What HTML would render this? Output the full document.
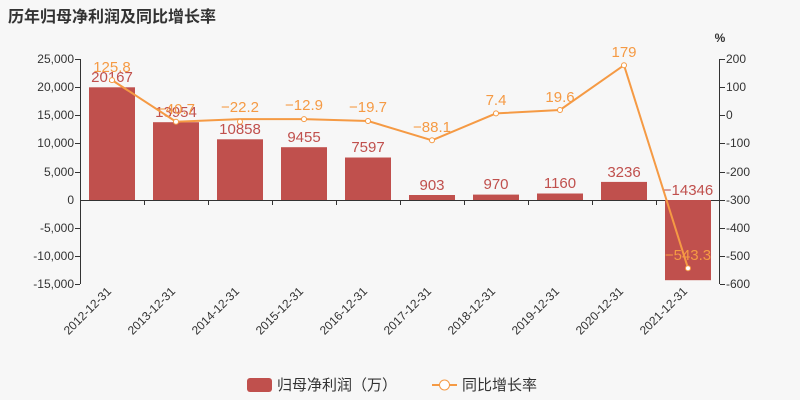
<!DOCTYPE html>
<html><head><meta charset="utf-8"><style>
body{margin:0;background:#f7f7f7;}
svg{display:block;font-family:"Liberation Sans","Noto Sans CJK SC",sans-serif;}
</style></head><body>
<svg width="800" height="400" viewBox="0 0 800 400">
<rect width="800" height="400" fill="#f7f7f7"/>
<text x="8" y="22" font-size="16" font-weight="bold" fill="#333">历年归母净利润及同比增长率</text>
<text x="720" y="42" font-size="12" fill="#333" text-anchor="middle" font-weight="bold">%</text>
<g stroke="#333" stroke-width="1">
<line x1="80.5" y1="59" x2="80.5" y2="284"/>
<line x1="719.5" y1="59" x2="719.5" y2="284"/>
<line x1="80" y1="200.5" x2="720" y2="200.5"/>
</g>
<g font-size="12" fill="#333" text-anchor="end">
<text x="74" y="63">25,000</text><text x="74" y="91">20,000</text><text x="74" y="119">15,000</text>
<text x="74" y="147">10,000</text><text x="74" y="176">5,000</text><text x="74" y="204">0</text>
<text x="74" y="232">-5,000</text><text x="74" y="260">-10,000</text><text x="74" y="288">-15,000</text>
</g>
<g font-size="12" fill="#333">
<text x="726" y="63">200</text><text x="726" y="91">100</text><text x="726" y="119">0</text>
<text x="726" y="147">-100</text><text x="726" y="176">-200</text><text x="726" y="204">-300</text>
<text x="726" y="232">-400</text><text x="726" y="260">-500</text><text x="726" y="288">-600</text>
</g>
<g stroke="#333">
<line x1="75" y1="59.5" x2="80" y2="59.5"/><line x1="75" y1="87.5" x2="80" y2="87.5"/><line x1="75" y1="115.5" x2="80" y2="115.5"/><line x1="75" y1="143.5" x2="80" y2="143.5"/><line x1="75" y1="172.5" x2="80" y2="172.5"/><line x1="75" y1="228.5" x2="80" y2="228.5"/><line x1="75" y1="256.5" x2="80" y2="256.5"/><line x1="75" y1="284.5" x2="80" y2="284.5"/>
<line x1="720" y1="59.5" x2="725" y2="59.5"/><line x1="720" y1="87.5" x2="725" y2="87.5"/><line x1="720" y1="115.5" x2="725" y2="115.5"/><line x1="720" y1="143.5" x2="725" y2="143.5"/><line x1="720" y1="172.5" x2="725" y2="172.5"/><line x1="720" y1="200.5" x2="725" y2="200.5"/><line x1="720" y1="228.5" x2="725" y2="228.5"/><line x1="720" y1="256.5" x2="725" y2="256.5"/><line x1="720" y1="284.5" x2="725" y2="284.5"/>
<line x1="144.5" y1="200" x2="144.5" y2="205"/><line x1="208.5" y1="200" x2="208.5" y2="205"/><line x1="272.5" y1="200" x2="272.5" y2="205"/><line x1="336.5" y1="200" x2="336.5" y2="205"/><line x1="400.5" y1="200" x2="400.5" y2="205"/><line x1="464.5" y1="200" x2="464.5" y2="205"/><line x1="528.5" y1="200" x2="528.5" y2="205"/><line x1="592.5" y1="200" x2="592.5" y2="205"/><line x1="656.5" y1="200" x2="656.5" y2="205"/>
</g>
<g fill="#c0504d">
<rect x="89" y="87.3" width="46" height="112.7"/>
<rect x="153" y="122.2" width="46" height="77.8"/>
<rect x="217" y="139.3" width="46" height="60.7"/>
<rect x="281" y="147.2" width="46" height="52.8"/>
<rect x="345" y="157.5" width="46" height="42.5"/>
<rect x="409" y="195" width="46" height="5"/>
<rect x="473" y="194.6" width="46" height="5.4"/>
<rect x="537" y="193.5" width="46" height="6.5"/>
<rect x="601" y="181.9" width="46" height="18.1"/>
<rect x="665" y="200" width="46" height="80.2"/>
</g>
<g font-size="15" fill="#c0504d" text-anchor="middle">
<text x="112" y="82">20167</text><text x="176" y="117">13954</text><text x="240" y="134">10858</text>
<text x="304" y="142">9455</text><text x="368" y="152">7597</text><text x="432" y="190">903</text>
<text x="496" y="189">970</text><text x="560" y="188">1160</text><text x="624" y="177">3236</text>
<text x="688" y="195">−14346</text>
</g>
<polyline fill="none" stroke="#f59a44" stroke-width="2" points="112,80.1 176,121.7 240,119.1 304,119.1 368,121 432,140.3 496,113.4 560,110 624,65.2 688,268.2"/>
<g fill="#fff" stroke="#f59a44" stroke-width="1">
<circle cx="112" cy="80.1" r="2.5"/><circle cx="176" cy="121.7" r="2.5"/><circle cx="240" cy="121.7" r="2.5"/><circle cx="304" cy="119.1" r="2.5"/><circle cx="368" cy="121" r="2.5"/><circle cx="432" cy="140.3" r="2.5"/><circle cx="496" cy="113.4" r="2.5"/><circle cx="560" cy="110" r="2.5"/><circle cx="624" cy="65.2" r="2.5"/><circle cx="688" cy="268.2" r="2.5"/>
</g>
<g font-size="15" fill="#f59a44" text-anchor="middle">
<text x="112" y="72">125.8</text><text x="176" y="114">−40.7</text><text x="240" y="112">−22.2</text>
<text x="304" y="110">−12.9</text><text x="368" y="112">−19.7</text><text x="432" y="132">−88.1</text>
<text x="496" y="105">7.4</text><text x="560" y="102">19.6</text><text x="624" y="57">179</text>
<text x="688" y="260">−543.3</text>
</g>
<g font-size="12" fill="#333" text-anchor="end">
<text transform="translate(112,292) rotate(-45)">2012-12-31</text>
<text transform="translate(176,292) rotate(-45)">2013-12-31</text>
<text transform="translate(240,292) rotate(-45)">2014-12-31</text>
<text transform="translate(304,292) rotate(-45)">2015-12-31</text>
<text transform="translate(368,292) rotate(-45)">2016-12-31</text>
<text transform="translate(432,292) rotate(-45)">2017-12-31</text>
<text transform="translate(496,292) rotate(-45)">2018-12-31</text>
<text transform="translate(560,292) rotate(-45)">2019-12-31</text>
<text transform="translate(624,292) rotate(-45)">2020-12-31</text>
<text transform="translate(688,292) rotate(-45)">2021-12-31</text>
</g>
<rect x="247" y="378" width="25" height="14" rx="3" fill="#c0504d"/>
<text x="277" y="390" font-size="15" fill="#333">归母净利润（万）</text>
<line x1="432" y1="385" x2="457" y2="385" stroke="#f59a44" stroke-width="2"/>
<circle cx="444.5" cy="385" r="5" fill="#fff" stroke="#f59a44"/>
<text x="462" y="390" font-size="15" fill="#333">同比增长率</text>
</svg>
</body></html>
